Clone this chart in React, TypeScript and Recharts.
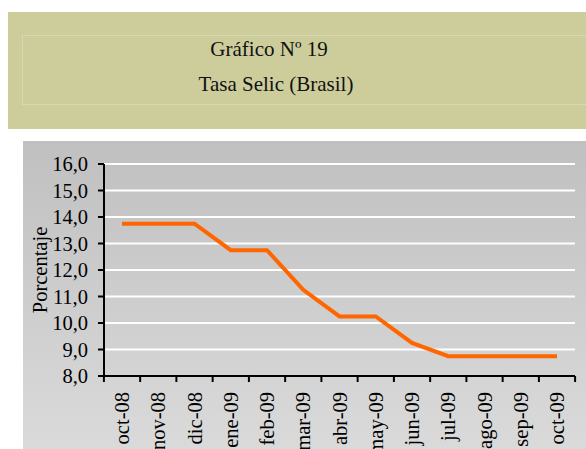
import { LineChart, Line, XAxis, YAxis, CartesianGrid, Label } from "recharts";

const months = [
  "oct-08", "nov-08", "dic-08", "ene-09", "feb-09", "mar-09", "abr-09",
  "may-09", "jun-09", "jul-09", "ago-09", "sep-09", "oct-09",
];
const selic = [13.75, 13.75, 13.75, 12.75, 12.75, 11.25, 10.25, 10.25, 9.25, 8.75, 8.75, 8.75, 8.75];
const yTicks = [8, 9, 10, 11, 12, 13, 14, 15, 16];

const data = months.map((m, i) => ({ month: m, tasa: selic[i] }));

const FONT = "Liberation Serif, DejaVu Serif, serif";
const HALF_BAND = 18.1;

function MonthTick(props: any) {
  const { x, y, payload, index } = props;
  const last = index === months.length - 1;
  return (
    <g>
      <line x1={x - HALF_BAND} x2={x - HALF_BAND} y1={y} y2={y + 6} stroke="#000" strokeWidth={2} />
      {last && <line x1={x + HALF_BAND} x2={x + HALF_BAND} y1={y} y2={y + 6} stroke="#000" strokeWidth={2} />}
      <text
        x={x}
        y={y + 16}
        transform={`rotate(-90, ${x}, ${y + 16})`}
        textAnchor="end"
        dominantBaseline="central"
        fontFamily={FONT}
        fontSize={20.5}
        fill="#000"
      >
        {payload.value}
      </text>
    </g>
  );
}

function YTitle(props: any) {
  const { viewBox } = props;
  const cx = 17;
  const cy = viewBox.y + viewBox.height / 2;
  return (
    <text
      x={cx}
      y={cy}
      transform={`rotate(-90, ${cx}, ${cy})`}
      textAnchor="middle"
      dominantBaseline="central"
      fontFamily={FONT}
      fontSize={20.5}
      fill="#000"
    >
      Porcentaje
    </text>
  );
}

export default function App() {
  return (
    <div style={{ position: "absolute", left: 0, top: 0, width: 586, height: 449, overflow: "hidden", background: "#fff", fontFamily: FONT }}>
      <div style={{ position: "absolute", left: 8, top: 12, width: 578, height: 117, background: "#CDCD9C" }} />
      <div style={{ position: "absolute", left: 22, top: 35, width: 570, height: 70, border: "1px solid #D8D8B2", boxSizing: "border-box" }} />
      <div style={{ position: "absolute", left: 119, top: 37, width: 300, textAlign: "center", fontSize: 21, lineHeight: "24px", color: "#111" }}>
        Gráfico Nº 19
      </div>
      <div style={{ position: "absolute", left: 126, top: 72, width: 300, textAlign: "center", fontSize: 21, lineHeight: "24px", color: "#111" }}>
        Tasa Selic (Brasil)
      </div>
      <div style={{ position: "absolute", left: 23, top: 141, width: 563, height: 308, background: "linear-gradient(#C0C0C0, #DADADA)" }}>
        <LineChart width={563} height={308} data={data} margin={{ top: 23, right: 11, left: 0, bottom: 0 }}>
          <CartesianGrid horizontal vertical={false} stroke="#fff" strokeWidth={2} />
          <XAxis
            dataKey="month"
            height={73}
            padding={{ left: 18, right: 18 }}
            axisLine={{ stroke: "#000", strokeWidth: 2 }}
            tickLine={false}
            tickSize={0}
            tickMargin={0}
            interval={0}
            tick={<MonthTick />}
          />
          <YAxis
            width={81}
            domain={[8, 16]}
            ticks={yTicks}
            interval={0}
            tickFormatter={(v: number) => v.toFixed(1).replace(".", ",")}
            axisLine={{ stroke: "#000", strokeWidth: 2 }}
            tickLine={{ stroke: "#000", strokeWidth: 2 }}
            tickSize={6}
            tickMargin={10}
            tick={{ fontFamily: FONT, fontSize: 20.5, fill: "#000" }}
          >
            <Label content={<YTitle />} />
          </YAxis>
          <Line
            type="linear"
            dataKey="tasa"
            stroke="#FF6600"
            strokeWidth={4}
            dot={false}
            isAnimationActive={false}
          />
        </LineChart>
      </div>
    </div>
  );
}
